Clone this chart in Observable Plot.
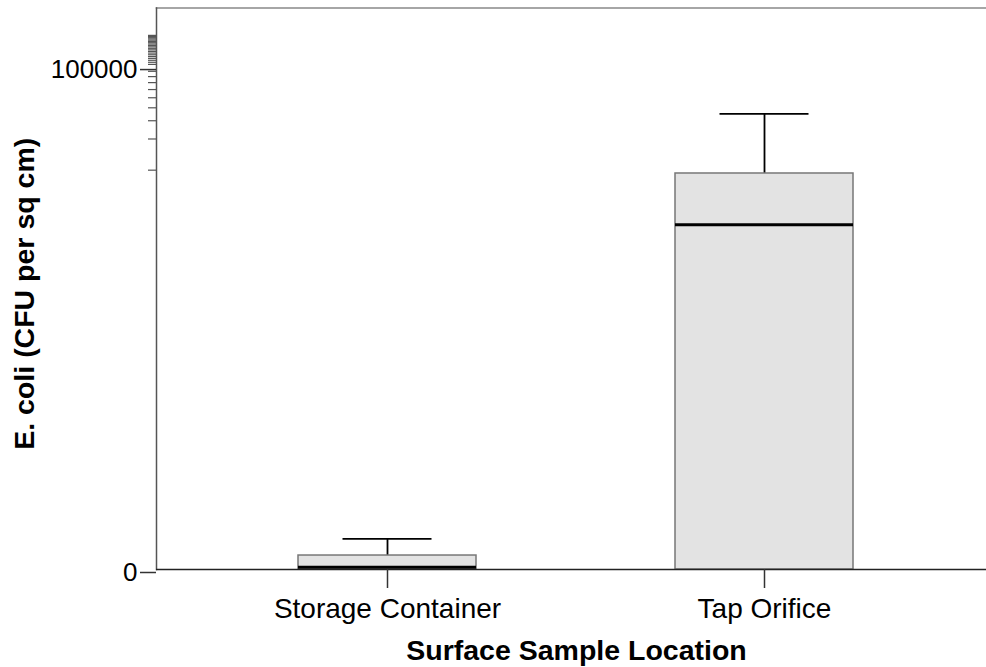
<!DOCTYPE html>
<html><head><meta charset="utf-8">
<script src="https://cdn.jsdelivr.net/npm/d3@7"></script>
<script src="https://cdn.jsdelivr.net/npm/@observablehq/plot@0.6"></script>
<style>html,body{margin:0;padding:0;background:#fff} svg{display:block}</style>
</head><body><div id="chart"></div>
<script>
const locations = ["Storage Container", "Tap Orifice"];
const q1 = [0, 0];
const median = [0.07, 2970];
const q3 = [0.51, 9290];
const whiskerHigh = [1.37, 35000];
const yMajorTicks = [0, 100000];
const yMinorTicks = [10000, 20000, 30000, 40000, 50000, 60000, 70000, 80000, 90000,
  105000, 110000, 115000, 120000, 125000, 130000, 135000, 140000, 145000, 150000,
  155000, 160000, 165000, 170000, 175000, 180000, 185000, 190000, 195000, 200000];
const xTitle = "Surface Sample Location";
const yTitle = "E. coli (CFU per sq cm)";

const rows = locations.map((loc, i) => ({loc, q1: q1[i], median: median[i], q3: q3[i], hi: whiskerHigh[i]}));
const font = "Arial, 'Liberation Sans', sans-serif";

const chart = Plot.plot({
  width: 986, height: 667,
  marginLeft: 156, marginRight: 0, marginTop: 7.5, marginBottom: 98,
  style: {fontFamily: font, background: "white", color: "black"},
  x: {domain: locations, range: [297.7, 852.7], paddingInner: 0.528, paddingOuter: 0, label: null},
  y: {type: "symlog", constant: 1.4, domain: [0, 367500], label: null},
  marks: [
    Plot.ruleX(rows, {x: "loc", y1: "q3", y2: "hi", stroke: "black", strokeWidth: 1.8}),
    Plot.tickY(rows, {x: "loc", y: "hi", stroke: "black", strokeWidth: 1.8, insetLeft: 44.5, insetRight: 44.5}),
    Plot.barY(rows, {x: "loc", y1: "q1", y2: "q3", fill: "#e3e3e3", stroke: "#777", strokeWidth: 1.5}),
    Plot.tickY(rows, {x: "loc", y: "median", stroke: "black", strokeWidth: 3}),
    Plot.frame({anchor: "top", stroke: "#888", strokeWidth: 1.5}),
    Plot.frame({anchor: "left", stroke: "#555", strokeWidth: 1.5}),
    Plot.ruleY([0], {stroke: "#222", strokeWidth: 1.5}),
    Plot.axisY(yMinorTicks, {tickSize: 8, tickFormat: () => "", stroke: "#555", strokeWidth: 1.2}),
    Plot.axisY(yMajorTicks, {tickSize: 16, tickPadding: 3, fontSize: 26, dy: 3, tickFormat: d => String(d), stroke: "#333", strokeWidth: 1.5}),
    Plot.axisX({tickSize: 19, tickPadding: 10, fontSize: 28, stroke: "#333", strokeWidth: 1.5, label: null}),
    Plot.text([xTitle], {frameAnchor: "bottom", dx: 5, dy: 90, fontSize: 28.5, fontWeight: "bold", fill: "black"}),
    Plot.text([yTitle], {frameAnchor: "left", textAnchor: "middle", lineAnchor: "middle", rotate: -90, x: null, dx: -132, dy: 5, fontSize: 28.5, fontWeight: "bold", fill: "black"})
  ]
});
document.getElementById("chart").append(chart);
</script>
</body></html>
